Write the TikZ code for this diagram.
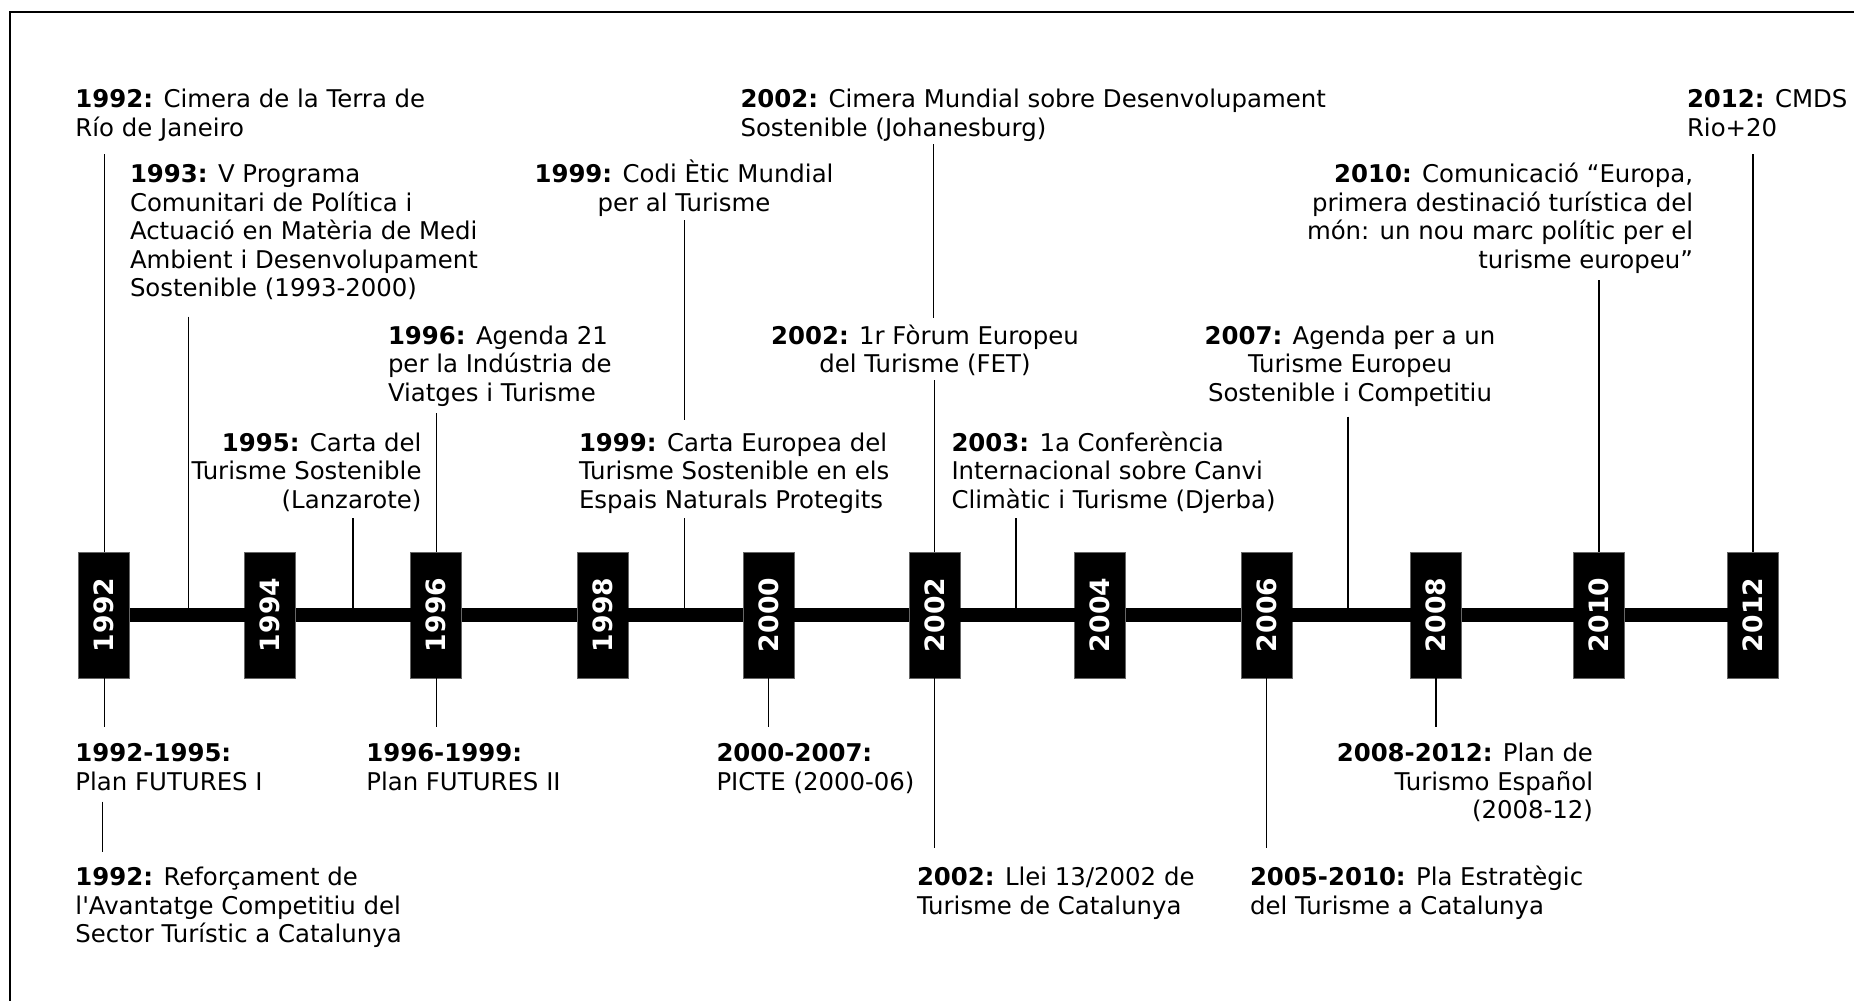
\documentclass[tikz,border=0pt]{standalone}
\usepackage{fontspec}
\usepackage{graphicx}
\newfontfamily\dvsans{DejaVu Sans}
% fixed height for the first line of every label, so that "north" sits at a known distance above the first baseline
\newcommand\lblstrut{\rule{0pt}{11.5pt}}
\begin{document}
\begin{tikzpicture}[x=0.5pt,y=-0.5pt,
  every node/.style={inner sep=0pt, outer sep=0pt},
  lbl/.style={font=\dvsans\fontsize{12.2}{14.25}\selectfont, text=black},
  lblL/.style={lbl, align=left, anchor=north west},
  lblR/.style={lbl, align=right, anchor=north east},
  lblC/.style={lbl, align=center, anchor=north},
  yearbox/.style={fill=black, draw=black!60, line width=0.4pt,
    minimum width=25.5pt, minimum height=63pt, text=white,
    font=\dvsans\bfseries\fontsize{13.3}{15}\selectfont},
  link/.style={line width=0.65pt},
  axis/.style={line width=6.6pt},
  frame/.style={line width=1pt}
]
\useasboundingbox (0,0) rectangle (1854,1001);

% frame
\draw[frame] (10,1010) -- (10,12) -- (1870,12);

% year boxes on the time axis
\node[yearbox] (y1992) at (104.3,615) {\rotatebox{90}{1992}};
\node[yearbox] (y1994) at (270.2,615) {\rotatebox{90}{1994}};
\node[yearbox] (y1996) at (436.3,615) {\rotatebox{90}{1996}};
\node[yearbox] (y1998) at (602.5,615) {\rotatebox{90}{1998}};
\node[yearbox] (y2000) at (768.5,615) {\rotatebox{90}{2000}};
\node[yearbox] (y2002) at (934.5,615) {\rotatebox{90}{2002}};
\node[yearbox] (y2004) at (1100,615) {\rotatebox{90}{2004}};
\node[yearbox] (y2006) at (1266.5,615) {\rotatebox{90}{2006}};
\node[yearbox] (y2008) at (1436,615) {\rotatebox{90}{2008}};
\node[yearbox] (y2010) at (1599,615) {\rotatebox{90}{2010}};
\node[yearbox] (y2012) at (1753,615) {\rotatebox{90}{2012}};

% the axis between consecutive boxes
\foreach \a/\b in {1992/1994,1994/1996,1996/1998,1998/2000,2000/2002,
                   2002/2004,2004/2006,2006/2008,2008/2010,2010/2012}
  \draw[axis] (y\a.east) -- (y\b.west);

% ---------- events above the axis ----------
\node[lblL] (e92a) at (75.5,84.5)
  {\lblstrut\textbf{1992:} Cimera de la Terra de\\Río de Janeiro};
\node[lblL] (e93) at (130,159.5)
  {\lblstrut\textbf{1993:} V Programa\\Comunitari de Política i\\Actuació en Matèria de Medi\\Ambient i Desenvolupament\\Sostenible (1993-2000)};
\node[lblC] (e99a) at (684,159.5)
  {\lblstrut\textbf{1999:} Codi Ètic Mundial\\per al Turisme};
\node[lblL] (e02a) at (740.5,84.5)
  {\lblstrut\textbf{2002:} Cimera Mundial sobre Desenvolupament\\Sostenible (Johanesburg)};
\node[lblL] (e12) at (1687,84.5)
  {\lblstrut\textbf{2012:} CMDS\\Rio+20};
\node[lblR] (e10) at (1693,159.5)
  {\lblstrut\textbf{2010:} Comunicació “Europa,\\primera destinació turística del\\món: un nou marc polític per el\\turisme europeu”};
\node[lblC] (e07) at (1350,321)
  {\lblstrut\textbf{2007:} Agenda per a un\\Turisme Europeu\\Sostenible i Competitiu};
\node[lblC] (e02b) at (925,321)
  {\lblstrut\textbf{2002:} 1r Fòrum Europeu\\del Turisme (FET)};
\node[lblL] (e96) at (388,321)
  {\lblstrut\textbf{1996:} Agenda 21\\per la Indústria de\\Viatges i Turisme};
\node[lblR] (e95) at (421.5,428)
  {\lblstrut\textbf{1995:} Carta del\\Turisme Sostenible\\(Lanzarote)};
\node[lblL] (e99b) at (579,428)
  {\lblstrut\textbf{1999:} Carta Europea del\\Turisme Sostenible en els\\Espais Naturals Protegits};
\node[lblL] (e03) at (951.5,428)
  {\lblstrut\textbf{2003:} 1a Conferència\\Internacional sobre Canvi\\Climàtic i Turisme (Djerba)};

% ---------- events below the axis ----------
\node[lblL] (p9295) at (75.5,738.5)
  {\lblstrut\textbf{1992-1995:}\\Plan FUTURES I};
\node[lblL] (p92) at (75.5,862.5)
  {\lblstrut\textbf{1992:} Reforçament de\\l'Avantatge Competitiu del\\Sector Turístic a Catalunya};
\node[lblL] (p9699) at (366.3,738.5)
  {\lblstrut\textbf{1996-1999:}\\Plan FUTURES II};
\node[lblL] (p0007) at (716.5,738.5)
  {\lblstrut\textbf{2000-2007:}\\PICTE (2000-06)};
\node[lblL] (p02) at (917,862.5)
  {\lblstrut\textbf{2002:} Llei 13/2002 de\\Turisme de Catalunya};
\node[lblR] (p0812) at (1593,738.5)
  {\lblstrut\textbf{2008-2012:} Plan de\\Turismo Español\\(2008-12)};
\node[lblL] (p0510) at (1250,862.5)
  {\lblstrut\textbf{2005-2010:} Pla Estratègic\\del Turisme a Catalunya};

% ---------- connector end points ----------
\coordinate (u1992) at (104.3,154);
\coordinate (u1993) at (188.3,316.7);  \coordinate (a1993) at (188.3,615);
\coordinate (u1995) at (353,518);      \coordinate (a1995) at (353,615);
\coordinate (u1996) at (436.3,413);
\coordinate (u1999a) at (684.3,220);   \coordinate (v1999a) at (684.3,420);
\coordinate (u1999b) at (684.3,518);   \coordinate (a1999) at (684.3,615);
\coordinate (u2002a) at (933.3,144);   \coordinate (v2002a) at (933.3,318);
\coordinate (u2002b) at (934.5,380);
\coordinate (u2003) at (1016,518);     \coordinate (a2003) at (1016,615);
\coordinate (u2007) at (1348,416.7);   \coordinate (a2007) at (1348,615);
\coordinate (u2010) at (1599,280);
\coordinate (u2012) at (1753,154);

\coordinate (d1992) at (104.3,727.3);
\coordinate (d1992b) at (102.7,801.7); \coordinate (e1992b) at (102.7,851.7);
\coordinate (d1996) at (436.3,727.3);
\coordinate (d2000) at (768.5,727.3);
\coordinate (d2002) at (934.5,848.3);
\coordinate (d2006) at (1266.5,848.3);
\coordinate (d2008) at (1436,727.3);

% ---------- connectors ----------
\draw[link] (u1992) -- (y1992.north);
\draw[link] (u1993) -- (a1993);
\draw[link] (u1995) -- (a1995);
\draw[link] (u1996) -- (y1996.north);
\draw[link] (u1999a) -- (v1999a);
\draw[link] (u1999b) -- (a1999);
\draw[link] (u2002a) -- (v2002a);
\draw[link] (u2002b) -- (y2002.north);
\draw[link] (u2003) -- (a2003);
\draw[link] (u2007) -- (a2007);
\draw[link] (u2010) -- (y2010.north);
\draw[link] (u2012) -- (y2012.north);

\draw[link] (y1992.south) -- (d1992);
\draw[link] (d1992b) -- (e1992b);
\draw[link] (y1996.south) -- (d1996);
\draw[link] (y2000.south) -- (d2000);
\draw[link] (y2002.south) -- (d2002);
\draw[link] (y2006.south) -- (d2006);
\draw[link] (y2008.south) -- (d2008);

\end{tikzpicture}
\end{document}
